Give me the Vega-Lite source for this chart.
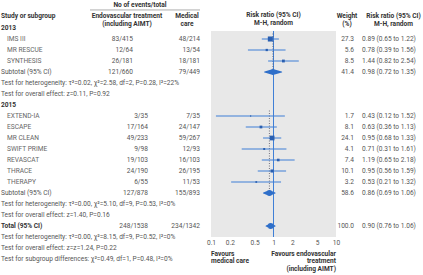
{
"$schema": "https://vega.github.io/schema/vega-lite/v6.json",
"padding": 0,
"bounds": "flush",
"spacing": 0,
"config": {
  "view": {"stroke": null},
  "font": "Roboto",
  "text": {"fontSize": 6.6, "color": "#555", "baseline": "middle", "font": "Roboto"},
  "axis": {"labelFont": "Roboto", "labelFontSize": 6.6, "labelColor": "#555", "zindex": 1},
  "concat": {"spacing": 0}
},
"datasets": {
  "rows": [
    {"r": 0, "label": "2013", "kind": "year"},
    {"r": 1, "label": "IMS III", "kind": "study", "grp": "2013", "endo": "83/415", "med": "48/214", "w": 27.3, "rr": 0.89, "lo": 0.65, "hi": 1.22, "ci": "0.89 (0.65 to 1.22)"},
    {"r": 2, "label": "MR RESCUE", "kind": "study", "grp": "2013", "endo": "12/64", "med": "13/54", "w": 5.6, "rr": 0.78, "lo": 0.39, "hi": 1.56, "ci": "0.78 (0.39 to 1.56)"},
    {"r": 3, "label": "SYNTHESIS", "kind": "study", "grp": "2013", "endo": "26/181", "med": "18/181", "w": 8.5, "rr": 1.44, "lo": 0.82, "hi": 2.54, "ci": "1.44 (0.82 to 2.54)"},
    {"r": 4, "label": "Subtotal (95% CI)", "kind": "sub", "grp": "2013", "endo": "121/660", "med": "79/449", "w": 41.4, "rr": 0.98, "lo": 0.72, "hi": 1.35, "ci": "0.98 (0.72 to 1.35)"},
    {"r": 5, "label": "Test for heterogeneity: τ²=0.02, χ²=2.58, df=2, P=0.28, I²=22%", "kind": "test"},
    {"r": 6, "label": "Test for overall effect: z=0.11, P=0.92", "kind": "test"},
    {"r": 7, "label": "2015", "kind": "year"},
    {"r": 8, "label": "EXTEND-IA", "kind": "study", "grp": "2015", "endo": "3/35", "med": "7/35", "w": 1.7, "rr": 0.43, "lo": 0.12, "hi": 1.52, "ci": "0.43 (0.12 to 1.52)"},
    {"r": 9, "label": "ESCAPE", "kind": "study", "grp": "2015", "endo": "17/164", "med": "24/147", "w": 8.1, "rr": 0.63, "lo": 0.36, "hi": 1.13, "ci": "0.63 (0.36 to 1.13)"},
    {"r": 10, "label": "MR CLEAN", "kind": "study", "grp": "2015", "endo": "49/233", "med": "59/267", "w": 24.1, "rr": 0.95, "lo": 0.68, "hi": 1.33, "ci": "0.95 (0.68 to 1.33)"},
    {"r": 11, "label": "SWIFT PRIME", "kind": "study", "grp": "2015", "endo": "9/98", "med": "12/93", "w": 4.1, "rr": 0.71, "lo": 0.31, "hi": 1.61, "ci": "0.71 (0.31 to 1.61)"},
    {"r": 12, "label": "REVASCAT", "kind": "study", "grp": "2015", "endo": "19/103", "med": "16/103", "w": 7.4, "rr": 1.19, "lo": 0.65, "hi": 2.18, "ci": "1.19 (0.65 to 2.18)"},
    {"r": 13, "label": "THRACE", "kind": "study", "grp": "2015", "endo": "24/190", "med": "26/195", "w": 10.1, "rr": 0.95, "lo": 0.56, "hi": 1.59, "ci": "0.95 (0.56 to 1.59)"},
    {"r": 14, "label": "THERAPY", "kind": "study", "grp": "2015", "endo": "6/55", "med": "11/53", "w": 3.2, "rr": 0.53, "lo": 0.21, "hi": 1.32, "ci": "0.53 (0.21 to 1.32)"},
    {"r": 15, "label": "Subtotal (95% CI)", "kind": "sub", "grp": "2015", "endo": "127/878", "med": "155/893", "w": 58.6, "rr": 0.86, "lo": 0.69, "hi": 1.06, "ci": "0.86 (0.69 to 1.06)"},
    {"r": 16, "label": "Test for heterogeneity: τ²=0.00, χ²=5.10, df=9, P=0.53, I²=0%", "kind": "test"},
    {"r": 17, "label": "Test for overall effect: z=1.40, P=0.16", "kind": "test"},
    {"r": 18, "label": "Total (95% CI)", "kind": "total", "grp": "all", "endo": "248/1538", "med": "234/1342", "w": 100, "rr": 0.90, "lo": 0.76, "hi": 1.06, "ci": "0.90 (0.76 to 1.06)"},
    {"r": 19, "label": "Test for heterogeneity: τ²=0.00, χ²=8.15, df=9, P=0.52, I²=0%", "kind": "test"},
    {"r": 20, "label": "Test for overall effect: z=z=1.24, P=0.22", "kind": "test"},
    {"r": 21, "label": "Test for subgroup differences: χ²=0.49, df=1, P=0.48, I²=0%", "kind": "test"}
  ]
},
"data": {"name": "rows"},
"hconcat": [
  {
    "width": 90, "height": 275,
    "layer": [
      {"data": {"values": [{}]},
       "mark": {"type": "text", "text": "Study or subgroup", "align": "left", "fontWeight": "bold", "color": "#333", "dx": 1},
       "encoding": {"x": {"value": 0}, "y": {"datum": -1.09, "type": "quantitative", "scale": {"domain": [-2.5455, 22.4545], "reverse": true, "nice": false, "zero": false}, "axis": null}}},
      {"transform": [{"filter": "datum.kind === 'year' || datum.kind === 'total'"}],
       "mark": {"type": "text", "align": "left", "fontWeight": "bold", "color": "#333", "dx": 1},
       "encoding": {"x": {"value": 0}, "y": {"field": "r", "type": "quantitative", "scale": {"domain": [-2.5455, 22.4545], "reverse": true, "nice": false, "zero": false}, "axis": null}, "text": {"field": "label"}}},
      {"transform": [{"filter": "datum.kind === 'study'"}],
       "mark": {"type": "text", "align": "left", "color": "#666", "dx": 7},
       "encoding": {"x": {"value": 0}, "y": {"field": "r", "type": "quantitative", "scale": {"domain": [-2.5455, 22.4545], "reverse": true, "nice": false, "zero": false}, "axis": null}, "text": {"field": "label"}}},
      {"transform": [{"filter": "datum.kind === 'sub' || datum.kind === 'test'"}],
       "mark": {"type": "text", "align": "left", "color": "#555", "dx": 1},
       "encoding": {"x": {"value": 0}, "y": {"field": "r", "type": "quantitative", "scale": {"domain": [-2.5455, 22.4545], "reverse": true, "nice": false, "zero": false}, "axis": null}, "text": {"field": "label"}}}
    ]
  },
  {
    "width": 58, "height": 275,
    "layer": [
      {"data": {"values": [{}]},
       "mark": {"type": "text", "text": "No of events/total", "align": "center", "fontWeight": "bold", "color": "#333", "dx": -8},
       "encoding": {"x": {"value": "width"}, "y": {"datum": -2.09, "type": "quantitative", "scale": {"domain": [-2.5455, 22.4545], "reverse": true, "nice": false, "zero": false}, "axis": null}}},
      {"data": {"values": [{}]},
       "mark": {"type": "rule", "color": "#999", "strokeWidth": 0.8},
       "encoding": {"x": {"value": 0}, "x2": {"value": "width"}, "y": {"datum": -1.64, "type": "quantitative", "scale": {"domain": [-2.5455, 22.4545], "reverse": true, "nice": false, "zero": false}, "axis": null}}},
      {"data": {"values": [{}]},
       "mark": {"type": "text", "text": ["Endovascular treatment", "(including AIMT)"], "lineHeight": 8, "align": "center", "fontWeight": "bold", "color": "#333", "dx": -21},
       "encoding": {"x": {"value": "width"}, "y": {"datum": -1.09, "type": "quantitative", "scale": {"domain": [-2.5455, 22.4545], "reverse": true, "nice": false, "zero": false}, "axis": null}}},
      {"transform": [{"filter": "datum.grp === '2013'"}],
       "mark": {"type": "text", "align": "right", "color": "#555", "dx": -15},
       "encoding": {"x": {"value": "width"}, "y": {"field": "r", "type": "quantitative", "scale": {"domain": [-2.5455, 22.4545], "reverse": true, "nice": false, "zero": false}, "axis": null}, "text": {"field": "endo"}}},
      {"transform": [{"filter": "datum.grp === '2015' || datum.grp === 'all'"}],
       "mark": {"type": "text", "align": "right", "color": "#555"},
       "encoding": {"x": {"value": "width"}, "y": {"field": "r", "type": "quantitative", "scale": {"domain": [-2.5455, 22.4545], "reverse": true, "nice": false, "zero": false}, "axis": null}, "text": {"field": "endo"}}}
    ]
  },
  {
    "width": 52, "height": 275,
    "layer": [
      {"data": {"values": [{}]},
       "mark": {"type": "rule", "color": "#999", "strokeWidth": 0.8},
       "encoding": {"x": {"value": 0}, "x2": {"value": "width"}, "y": {"datum": -1.64, "type": "quantitative", "scale": {"domain": [-2.5455, 22.4545], "reverse": true, "nice": false, "zero": false}, "axis": null}}},
      {"data": {"values": [{}]},
       "mark": {"type": "text", "text": ["Medical", "care"], "lineHeight": 8, "align": "center", "fontWeight": "bold", "color": "#333", "dx": -13},
       "encoding": {"x": {"value": "width"}, "y": {"datum": -1.09, "type": "quantitative", "scale": {"domain": [-2.5455, 22.4545], "reverse": true, "nice": false, "zero": false}, "axis": null}}},
      {"transform": [{"filter": "isValid(datum.med)"}],
       "mark": {"type": "text", "align": "right", "color": "#555"},
       "encoding": {"x": {"value": "width"}, "y": {"field": "r", "type": "quantitative", "scale": {"domain": [-2.5455, 22.4545], "reverse": true, "nice": false, "zero": false}, "axis": null}, "text": {"field": "med"}}}
    ]
  },
  {
    "width": 136, "height": 275,
    "layer": [
      {"data": {"values": [{}]},
       "mark": {"type": "rect", "color": "#e8e8e8"},
       "encoding": {
         "x": {"datum": 0.1, "type": "quantitative", "scale": {"type": "log", "domain": [0.06668, 10], "nice": false}, "axis": {"values": [0.1, 0.2, 0.5, 1, 2, 5, 10], "format": "~g", "offset": -38, "domain": false, "ticks": false, "tickSize": 0, "grid": false, "labelPadding": 2, "labelFlush": false, "labelOverlap": false, "title": null}},
         "x2": {"datum": 10, "type": "quantitative"},
         "y": {"datum": 0.27, "type": "quantitative", "scale": {"domain": [-2.5455, 22.4545], "reverse": true, "nice": false, "zero": false}, "axis": null},
         "y2": {"datum": 19, "type": "quantitative"}}},
      {"data": {"values": [{}]},
       "mark": {"type": "text", "text": ["Risk ratio (95% CI)", "M-H, random"], "lineHeight": 8, "align": "center", "fontWeight": "bold", "color": "#333"},
       "encoding": {"x": {"datum": 1, "type": "quantitative"}, "y": {"datum": -1.18, "type": "quantitative", "scale": {"domain": [-2.5455, 22.4545], "reverse": true, "nice": false, "zero": false}, "axis": null}}},
      {"data": {"values": [{}]},
       "mark": {"type": "rule", "color": "#3f7fd6", "strokeWidth": 1},
       "encoding": {"x": {"datum": 1, "type": "quantitative"}, "y": {"datum": 0.27, "type": "quantitative", "scale": {"domain": [-2.5455, 22.4545], "reverse": true, "nice": false, "zero": false}, "axis": null}, "y2": {"datum": 19, "type": "quantitative"}}},
      {"data": {"values": [{}]},
       "mark": {"type": "rule", "color": "#556", "strokeWidth": 0.8, "strokeDash": [1, 1.5]},
       "encoding": {"x": {"datum": 0.98, "type": "quantitative"}, "y": {"datum": 0.5, "type": "quantitative", "scale": {"domain": [-2.5455, 22.4545], "reverse": true, "nice": false, "zero": false}, "axis": null}, "y2": {"datum": 4, "type": "quantitative"}}},
      {"data": {"values": [{}]},
       "mark": {"type": "rule", "color": "#556", "strokeWidth": 0.8, "strokeDash": [1, 1.5]},
       "encoding": {"x": {"datum": 0.86, "type": "quantitative"}, "y": {"datum": 7.5, "type": "quantitative", "scale": {"domain": [-2.5455, 22.4545], "reverse": true, "nice": false, "zero": false}, "axis": null}, "y2": {"datum": 15, "type": "quantitative"}}},
      {"transform": [{"filter": "datum.kind === 'study'"}],
       "mark": {"type": "rule", "color": "#3f7fd6", "strokeWidth": 1},
       "encoding": {"x": {"field": "lo", "type": "quantitative", "title": null}, "x2": {"field": "hi"}, "y": {"field": "r", "type": "quantitative", "scale": {"domain": [-2.5455, 22.4545], "reverse": true, "nice": false, "zero": false}, "axis": null}}},
      {"transform": [{"filter": "datum.kind === 'study'"}],
       "mark": {"type": "point", "shape": "square", "filled": true, "opacity": 1, "color": "#2a5fb0"},
       "encoding": {"x": {"field": "rr", "type": "quantitative", "title": null}, "y": {"field": "r", "type": "quantitative", "scale": {"domain": [-2.5455, 22.4545], "reverse": true, "nice": false, "zero": false}, "axis": null}, "size": {"field": "w", "type": "quantitative", "scale": {"domain": [0, 30], "range": [0, 28]}, "legend": null}}},
      {"transform": [{"filter": "datum.kind === 'sub' || datum.kind === 'total'"}, {"fold": ["lo", "rr", "hi"], "as": ["k", "v"]}],
       "mark": {"type": "trail", "color": "#2f6fc9"},
       "encoding": {"x": {"field": "v", "type": "quantitative", "title": null}, "y": {"field": "r", "type": "quantitative", "scale": {"domain": [-2.5455, 22.4545], "reverse": true, "nice": false, "zero": false}, "axis": null}, "detail": {"field": "r"}, "size": {"condition": {"test": "datum.k === 'rr'", "value": 6}, "value": 0}}},
      {"data": {"values": [{}]},
       "mark": {"type": "text", "text": ["Favours", "medical care"], "lineHeight": 7.5, "align": "left", "fontWeight": "bold", "color": "#333"},
       "encoding": {"x": {"datum": 0.1, "type": "quantitative"}, "y": {"datum": 20.545, "type": "quantitative", "scale": {"domain": [-2.5455, 22.4545], "reverse": true, "nice": false, "zero": false}, "axis": null}}},
      {"data": {"values": [{}]},
       "mark": {"type": "text", "text": ["Favours endovascular", "treatment", "(including AIMT)"], "lineHeight": 7.5, "align": "right", "fontWeight": "bold", "color": "#333"},
       "encoding": {"x": {"datum": 10, "type": "quantitative"}, "y": {"datum": 20.545, "type": "quantitative", "scale": {"domain": [-2.5455, 22.4545], "reverse": true, "nice": false, "zero": false}, "axis": null}}}
    ]
  },
  {
    "width": 18, "height": 275,
    "layer": [
      {"data": {"values": [{}]},
       "mark": {"type": "text", "text": ["Weight", "(%)"], "lineHeight": 8, "align": "center", "fontWeight": "bold", "color": "#333", "dx": 2},
       "encoding": {"y": {"datum": -1.09, "type": "quantitative", "scale": {"domain": [-2.5455, 22.4545], "reverse": true, "nice": false, "zero": false}, "axis": null}}},
      {"transform": [{"filter": "isValid(datum.w)"}],
       "mark": {"type": "text", "align": "right", "color": "#555"},
       "encoding": {"x": {"value": "width"}, "y": {"field": "r", "type": "quantitative", "scale": {"domain": [-2.5455, 22.4545], "reverse": true, "nice": false, "zero": false}, "axis": null}, "text": {"field": "w", "type": "quantitative", "format": ".1f"}}}
    ]
  },
  {
    "width": 69, "height": 275,
    "layer": [
      {"data": {"values": [{}]},
       "mark": {"type": "text", "text": ["Risk ratio (95% CI)", "M-H, random"], "lineHeight": 8, "align": "center", "fontWeight": "bold", "color": "#333", "dx": 5},
       "encoding": {"y": {"datum": -1.09, "type": "quantitative", "scale": {"domain": [-2.5455, 22.4545], "reverse": true, "nice": false, "zero": false}, "axis": null}}},
      {"transform": [{"filter": "isValid(datum.ci)"}],
       "mark": {"type": "text", "align": "left", "color": "#555", "dx": 8},
       "encoding": {"x": {"value": 0}, "y": {"field": "r", "type": "quantitative", "scale": {"domain": [-2.5455, 22.4545], "reverse": true, "nice": false, "zero": false}, "axis": null}, "text": {"field": "ci"}}}
    ]
  }
]
}
